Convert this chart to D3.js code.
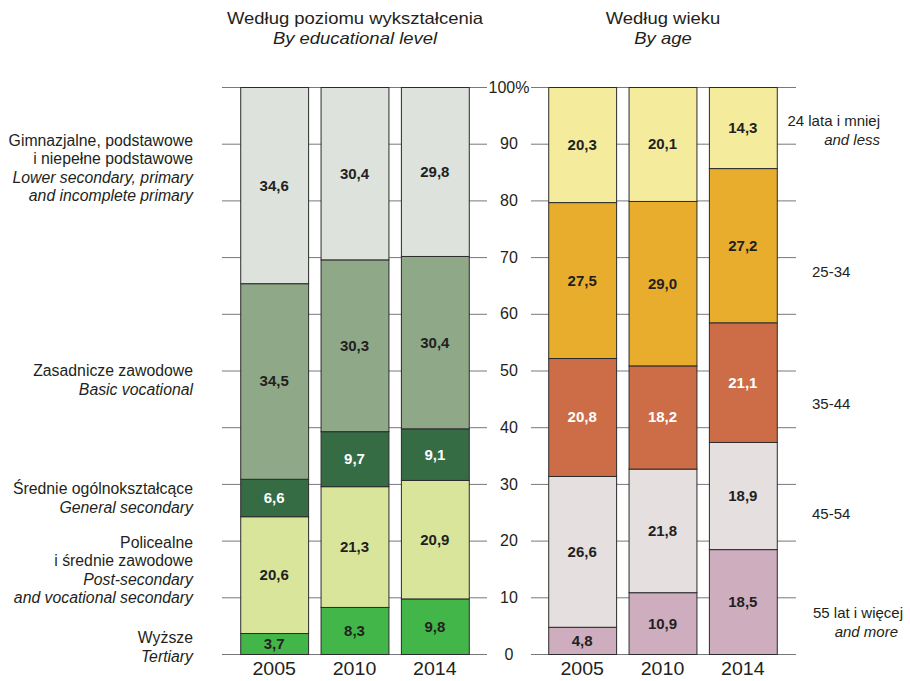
<!DOCTYPE html>
<html>
<head>
<meta charset="utf-8">
<script src="https://cdn.jsdelivr.net/npm/d3@7"></script>
<style>
  body { margin: 0; background: #fff; }
  text { font-family: "Liberation Sans", Arial, sans-serif; fill: #231f20; }
</style>
</head>
<body>
<div id="chart"></div>
<script>
// data (bottom to top of each bar)
const years = ["2005", "2010", "2014"];

const eduWyzsze = [3.7, 8.3, 9.8];
const eduPolicealne = [20.6, 21.3, 20.9];
const eduSrednie = [6.6, 9.7, 9.1];
const eduZasadnicze = [34.5, 30.3, 30.4];
const eduGimnazjalne = [34.6, 30.4, 29.8];

const age55 = [4.8, 10.9, 18.5];
const age45 = [26.6, 21.8, 18.9];
const age35 = [20.8, 18.2, 21.1];
const age25 = [27.5, 29.0, 27.2];
const age24 = [20.3, 20.1, 14.3];

const tickValues = [0, 10, 20, 30, 40, 50, 60, 70, 80, 90, 100];

// category labels: [polish lines], [english lines]
const eduLabels = [
    [["Wyższe"], ["Tertiary"]],
    [["Policealne", "i średnie zawodowe"], ["Post-secondary", "and vocational secondary"]],
    [["Średnie ogólnokształcące"], ["General secondary"]],
    [["Zasadnicze zawodowe"], ["Basic vocational"]],
    [["Gimnazjalne, podstawowe", "i niepełne podstawowe"], ["Lower secondary, primary", "and incomplete primary"]]
];
const ageLabels = [
    [["55 lat i więcej"], ["and more"]],
    [["45-54"], []],
    [["35-44"], []],
    [["25-34"], []],
    [["24 lata i mniej"], ["and less"]]
];

const eduColors = ["#43b649", "#d9e59b", "#356c44", "#8fa888", "#dee2dd"];
const eduTextColors = ["#231f20", "#231f20", "#fff", "#231f20", "#231f20"];
const ageColors = ["#ceadbf", "#e5dfe0", "#cc6d47", "#e9ad2e", "#f5eb9c"];
const ageTextColors = ["#231f20", "#231f20", "#fff", "#231f20", "#231f20"];

// layout
const width = 910, height = 681;
const lineH = 18.5;
// vertical anchors (in %) for side labels
const eduLabelAt = [1.2, 14.8, 27.5, 48.3, 85.7];
const ageLabelAt = [5.6, 24.7, 44.1, 67.5, 92.4];

const y = d3.scaleLinear().domain([0, 100]).range([654, 87]);
const xEdu = d3.scaleBand().domain(years).range([234, 475]).paddingInner(0.155).paddingOuter(0.0775);
const xAge = d3.scaleBand().domain(years).range([542, 783]).paddingInner(0.155).paddingOuter(0.0775);

const svg = d3.select("#chart").append("svg").attr("width", width).attr("height", height);

// text widened horizontally like the original artwork
const wideText = (parent, x, yy, str, size, sx, anchor) =>
    parent.append("text")
        .attr("transform", `translate(${x},${yy}) scale(${sx},1)`)
        .attr("text-anchor", anchor)
        .style("font-size", size + "px")
        .text(str);

// grid lines (broken around axis labels)
const grid = svg.append("g").attr("class", "grid");
grid.selectAll("line.gl").data(tickValues).join("line").attr("class", "gl")
    .attr("x1", 222).attr("x2", 487)
    .attr("y1", d => y(d) + 0.5).attr("y2", d => y(d) + 0.5)
    .attr("stroke", "#77787b").attr("stroke-width", 1);
grid.selectAll("line.gr").data(tickValues).join("line").attr("class", "gr")
    .attr("x1", 531).attr("x2", 796)
    .attr("y1", d => y(d) + 0.5).attr("y2", d => y(d) + 0.5)
    .attr("stroke", "#77787b").attr("stroke-width", 1);

// axis labels in the middle
const axis = d3.axisRight(y).tickValues(tickValues).tickSize(0).tickFormat(d => d === 100 ? "100%" : d);
const axisG = svg.append("g").attr("transform", "translate(509,0)").call(axis);
axisG.select(".domain").remove();
axisG.selectAll("text").attr("x", 0).attr("text-anchor", "middle")
    .style("font-size", "16px").style("font-family", "Liberation Sans, Arial, sans-serif").attr("fill", "#231f20");

const drawPanel = (series, colors, textColors, x) => {
    const rows = years.map((yr, i) => {
        const r = { year: yr };
        series.forEach((s, k) => r[k] = s[i]);
        return r;
    });
    const stack = d3.stack().keys(series.map((s, k) => k))(rows);
    const g = svg.append("g");
    const layers = g.selectAll("g.layer").data(stack).join("g").attr("class", "layer");
    layers.selectAll("rect").data(d => d.map(p => ({ p, k: d.key }))).join("rect")
        .attr("x", d => x(d.p.data.year) + 0.5)
        .attr("y", d => y(d.p[1]) + 0.5)
        .attr("width", x.bandwidth())
        .attr("height", d => y(d.p[0]) - y(d.p[1]))
        .attr("fill", d => colors[d.k])
        .attr("stroke", "#2b2b2b").attr("stroke-width", 1);
    layers.selectAll("text").data(d => d.map(p => ({ p, k: d.key }))).join("text")
        .attr("x", d => x(d.p.data.year) + x.bandwidth() / 2)
        .attr("y", d => (y(d.p[0]) + y(d.p[1])) / 2 + 5.5)
        .attr("text-anchor", "middle")
        .style("font-size", "15px").style("font-weight", "bold")
        .style("fill", d => textColors[d.k])
        .text(d => d3.format(".1f")(d.p[1] - d.p[0]).replace(".", ","));

    // year labels
    years.forEach(yr => wideText(g, x(yr) + x.bandwidth() / 2, 675, yr, 17.5, 1.12, "middle"));
};

drawPanel([eduWyzsze, eduPolicealne, eduSrednie, eduZasadnicze, eduGimnazjalne], eduColors, eduTextColors, xEdu);
drawPanel([age55, age45, age35, age25, age24], ageColors, ageTextColors, xAge);

// side labels
const sideLabel = (labels, anchors, xPos, anchorOf, size) => {
    labels.forEach((lab, i) => {
        const lines = lab[0].map(t => ({ t, it: false })).concat(lab[1].map(t => ({ t, it: true })));
        const top = y(anchors[i]) - (lines.length - 1) * lineH / 2 + 5.5;
        const t = svg.append("text").attr("text-anchor", anchorOf(i)).style("font-size", size + "px");
        lines.forEach((l, j) => {
            t.append("tspan").attr("x", xPos(i, l.it)).attr("y", top + j * lineH)
                .style("font-style", l.it ? "italic" : "normal").text(l.t);
        });
    });
};
sideLabel(eduLabels, eduLabelAt, () => 193, () => "end", 15.8);
sideLabel(ageLabels, ageLabelAt, (i, it) => {
    if (i === 0) return it ? 898 : 903;
    if (i === 4) return 880;
    return 812;
}, i => (i === 0 || i === 4) ? "end" : "start", 15);

// titles
const titles = [
    { x: 355, a: "Według poziomu wykształcenia", b: "By educational level" },
    { x: 663, a: "Według wieku", b: "By age" }
];
titles.forEach(tt => {
    wideText(svg, tt.x, 24, tt.a, 16.5, 1.12, "middle");
    wideText(svg, tt.x, 44, tt.b, 16.5, 1.12, "middle").style("font-style", "italic");
});
</script>
</body>
</html>
